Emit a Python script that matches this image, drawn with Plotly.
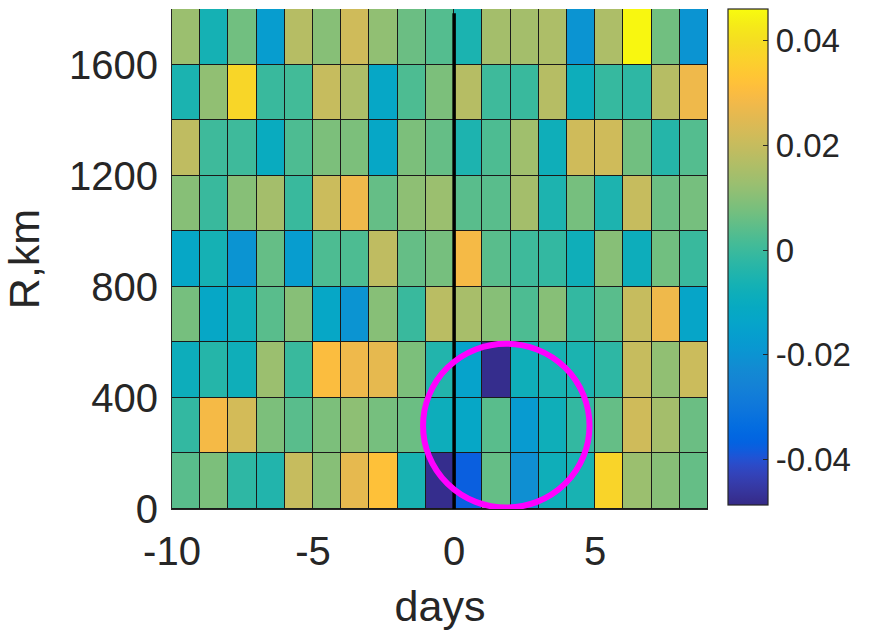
import plotly.graph_objects as go

# ---- data -------------------------------------------------------------
day_edges = list(range(-10, 10))            # 19 cells, -10 .. 9
km_edges = list(range(0, 2000, 200))        # 9 cells, 0 .. 1800

# rows from bottom (0-200 km) to top (1600-1800 km), columns -10 .. 8 days
row_0 = [0.0040, 0.0085, -0.0020, -0.0042, 0.0202, 0.0100, 0.0260, 0.0320, -0.0060, -0.0480,
         -0.0376, 0.0055, -0.0213, -0.0080, -0.0060, 0.0375, 0.0129, 0.0100, 0.0055]
row_200 = [-0.0013, 0.0290, 0.0224, 0.0085, 0.0040, 0.0085, 0.0110, 0.0077, 0.0062, -0.0087,
           -0.0124, 0.0040, -0.0176, -0.0080, -0.0013, 0.0055, 0.0217, 0.0144, 0.0062]
row_400 = [-0.0087, -0.0035, -0.0080, 0.0129, -0.0004, 0.0306, 0.0277, 0.0260, 0.0085, -0.0042,
           -0.0146, -0.0480, -0.0080, -0.0060, -0.0054, -0.0020, 0.0202, 0.0114, 0.0210]
row_600 = [0.0077, -0.0124, -0.0080, 0.0040, 0.0100, -0.0124, -0.0198, 0.0100, -0.0004, 0.0180,
           0.0150, 0.0100, 0.0025, 0.0100, -0.0013, 0.0040, 0.0202, 0.0277, -0.0135]
row_800 = [-0.0124, -0.0065, -0.0198, 0.0055, -0.0168, 0.0025, 0.0025, 0.0188, 0.0055, 0.0077,
           0.0290, 0.0040, 0.0003, -0.0013, -0.0080, 0.0100, -0.0087, 0.0070, -0.0004]
row_1000 = [0.0100, -0.0004, 0.0100, 0.0144, -0.0004, 0.0210, 0.0277, 0.0055, 0.0110, 0.0129,
            0.0040, 0.0040, 0.0144, -0.0050, 0.0077, -0.0050, 0.0202, 0.0062, 0.0077]
row_1200 = [0.0188, 0.0003, 0.0003, -0.0100, 0.0025, 0.0085, 0.0085, -0.0124, 0.0085, 0.0055,
            -0.0050, 0.0025, 0.0136, -0.0080, 0.0217, 0.0217, 0.0070, -0.0035, 0.0033]
row_1400 = [-0.0054, 0.0114, 0.0380, -0.0004, 0.0010, 0.0202, 0.0158, -0.0124, 0.0025, 0.0085,
            0.0173, 0.0003, -0.0004, 0.0173, -0.0087, -0.0008, -0.0020, 0.0173, 0.0277]
row_1600 = [0.0129, -0.0065, 0.0070, -0.0168, 0.0173, 0.0100, 0.0217, 0.0114, 0.0062, 0.0033,
            -0.0054, 0.0144, 0.0144, 0.0158, -0.0198, 0.0158, 0.0454, 0.0070, -0.0198]
z_rows = [row_0, row_200, row_400, row_600, row_800, row_1000, row_1200, row_1400, row_1600]

c_min, c_max = -0.0487, 0.0461
cbar_ticks = [-0.04, -0.02, 0, 0.02, 0.04]
cbar_ticktext = ["-0.04", "-0.02", "0", "0.02", "0.04"]
x_ticks = [-10, -5, 0, 5]
y_ticks = [0, 400, 800, 1200, 1600]

# marker line at day 0 and highlight ellipse
zero_day = 0
zero_line_top_km = 1785
circle_center_day, circle_center_km = 1.85, 300
circle_r_day, circle_r_km = 2.95, 295

# ---- parula colormap --------------------------------------------------
parula = [[0.2081, 0.1663, 0.5292], [0.2116, 0.1898, 0.5777], [0.2123, 0.2138, 0.6270], [0.2081, 0.2386, 0.6771],
          [0.1959, 0.2645, 0.7279], [0.1707, 0.2919, 0.7792], [0.1253, 0.3242, 0.8303], [0.0591, 0.3598, 0.8683],
          [0.0117, 0.3875, 0.8820], [0.0060, 0.4086, 0.8828], [0.0165, 0.4266, 0.8786], [0.0329, 0.4430, 0.8720],
          [0.0498, 0.4586, 0.8641], [0.0629, 0.4737, 0.8554], [0.0723, 0.4887, 0.8467], [0.0779, 0.5040, 0.8384],
          [0.0793, 0.5200, 0.8312], [0.0749, 0.5375, 0.8263], [0.0641, 0.5570, 0.8240], [0.0488, 0.5772, 0.8228],
          [0.0343, 0.5966, 0.8199], [0.0265, 0.6137, 0.8135], [0.0239, 0.6287, 0.8038], [0.0231, 0.6418, 0.7913],
          [0.0228, 0.6535, 0.7768], [0.0267, 0.6642, 0.7607], [0.0384, 0.6743, 0.7436], [0.0590, 0.6838, 0.7254],
          [0.0843, 0.6928, 0.7062], [0.1133, 0.7015, 0.6859], [0.1453, 0.7098, 0.6646], [0.1801, 0.7177, 0.6424],
          [0.2178, 0.7250, 0.6193], [0.2586, 0.7317, 0.5954], [0.3022, 0.7376, 0.5712], [0.3482, 0.7424, 0.5473],
          [0.3953, 0.7459, 0.5244], [0.4420, 0.7481, 0.5033], [0.4871, 0.7491, 0.4840], [0.5300, 0.7491, 0.4661],
          [0.5709, 0.7485, 0.4494], [0.6099, 0.7473, 0.4337], [0.6473, 0.7456, 0.4188], [0.6834, 0.7435, 0.4044],
          [0.7184, 0.7411, 0.3905], [0.7525, 0.7384, 0.3768], [0.7858, 0.7356, 0.3633], [0.8185, 0.7327, 0.3498],
          [0.8507, 0.7299, 0.3360], [0.8824, 0.7274, 0.3217], [0.9139, 0.7258, 0.3063], [0.9450, 0.7261, 0.2886],
          [0.9739, 0.7314, 0.2666], [0.9938, 0.7455, 0.2403], [0.9990, 0.7653, 0.2164], [0.9955, 0.7861, 0.1967],
          [0.9880, 0.8066, 0.1794], [0.9789, 0.8271, 0.1633], [0.9697, 0.8481, 0.1475], [0.9626, 0.8705, 0.1309],
          [0.9589, 0.8949, 0.1132], [0.9598, 0.9218, 0.0948], [0.9661, 0.9514, 0.0755], [0.9763, 0.9831, 0.0538]]
n = len(parula)
colorscale = [[i / (n - 1), "rgb(%d,%d,%d)" % tuple(round(v * 255) for v in c)] for i, c in enumerate(parula)]

FONT = "Liberation Sans, Arial, Helvetica, sans-serif"
AX = "#262626"

fig = go.Figure()
fig.add_trace(go.Heatmap(
    x=day_edges, y=km_edges, z=z_rows,
    zmin=c_min, zmax=c_max, colorscale=colorscale,
    xgap=1, ygap=1,
    colorbar=dict(
        thickness=40, thicknessmode="pixels",
        len=0.992, lenmode="fraction", y=1, yanchor="top",
        x=1.0373, xanchor="left", xpad=0, ypad=0,
        outlinewidth=1.2, outlinecolor=AX,
        tickvals=cbar_ticks, ticktext=cbar_ticktext,
        ticks="inside", ticklen=5, tickcolor=AX, tickwidth=1,
        tickfont=dict(family=FONT, size=33, color=AX),
    ),
    showscale=True,
))

fig.add_shape(type="line", xref="x", yref="y",
              x0=zero_day, x1=zero_day, y0=0, y1=zero_line_top_km,
              line=dict(color="black", width=3.5))
fig.add_shape(type="circle", xref="x", yref="y",
              x0=circle_center_day - circle_r_day, x1=circle_center_day + circle_r_day,
              y0=circle_center_km - circle_r_km, y1=circle_center_km + circle_r_km,
              line=dict(color="#FF00FF", width=6))

fig.update_layout(
    width=869, height=630,
    margin=dict(l=172, r=161, t=9, b=121, pad=0),
    paper_bgcolor="white", plot_bgcolor="#1a1a1a",
    font=dict(family=FONT, color=AX),
)
fig.update_xaxes(range=[-10, 9], tickvals=x_ticks, ticktext=[str(v) for v in x_ticks],
                 showgrid=False, zeroline=False, showline=True, linecolor=AX, linewidth=1,
                 ticks="", tickfont=dict(family=FONT, size=40, color=AX), ticklabelstandoff=7,
                 title=dict(text="days", font=dict(family=FONT, size=43, color=AX), standoff=18))
fig.update_yaxes(range=[0, 1800], tickvals=y_ticks, ticktext=[str(v) for v in y_ticks],
                 showgrid=False, zeroline=False, showline=True, linecolor=AX, linewidth=1,
                 ticks="", tickfont=dict(family=FONT, size=40, color=AX), ticklabelstandoff=5,
                 title=dict(text="R,km", font=dict(family=FONT, size=43, color=AX), standoff=16))

fig.write_html("out.html")
